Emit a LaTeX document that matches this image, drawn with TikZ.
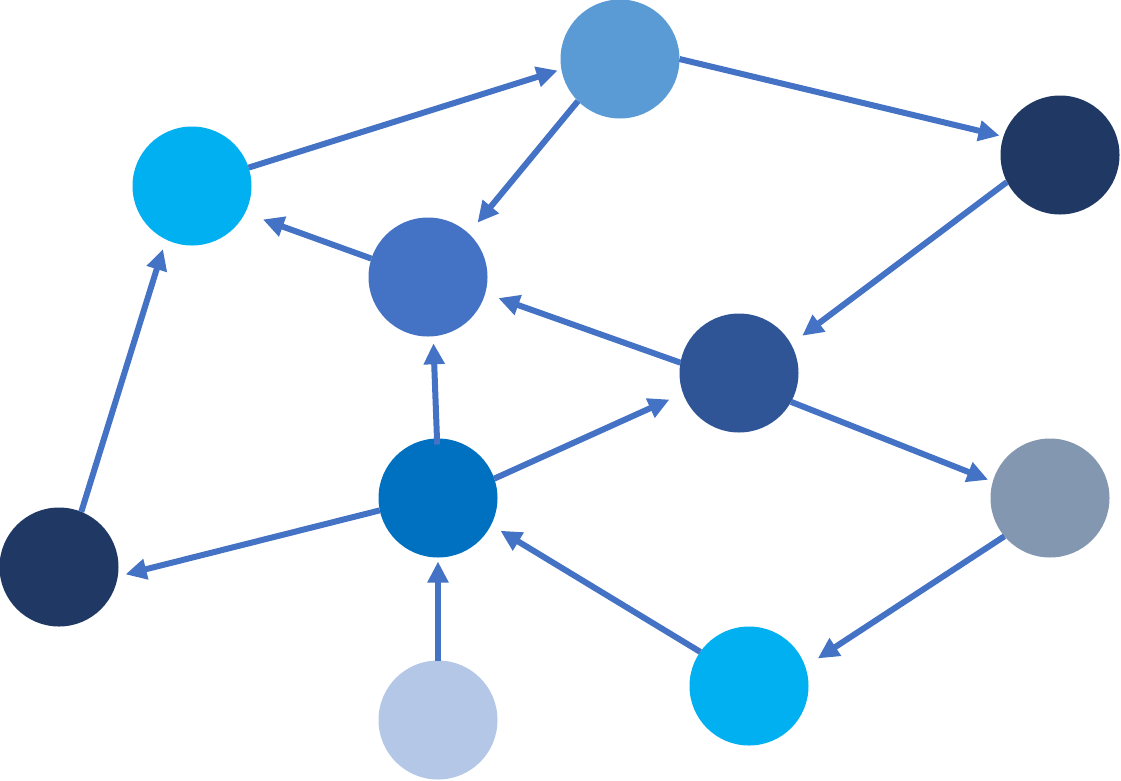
\documentclass[tikz,border=0pt]{standalone}
\usetikzlibrary{arrows.meta}
\definecolor{cA}{HTML}{5B9BD5}
\definecolor{cB}{HTML}{00B0F0}
\definecolor{cC}{HTML}{4472C4}
\definecolor{cD}{HTML}{1F3864}
\definecolor{cE}{HTML}{2F5597}
\definecolor{cF}{HTML}{0070C0}
\definecolor{cH}{HTML}{8497B0}
\definecolor{cJ}{HTML}{B4C7E7}
\definecolor{edge}{HTML}{4472C4}
\tikzset{
  dot/.style={circle, minimum size=119pt, inner sep=0pt, outer sep=0pt, draw=none, fill=#1},
  link/.style={draw=edge, line width=6pt, -{Triangle[length=21pt,width=20pt]}}
}
\begin{document}
\begin{tikzpicture}[x=1pt,y=-1pt]
\useasboundingbox (0,0) rectangle (1121,780);
\node[dot=cA] (A) at (620,59) {};
\node[dot=cB] (B) at (192,186) {};
\node[dot=cC] (C) at (428,277) {};
\node[dot=cD] (D) at (1060,155) {};
\node[dot=cE] (E) at (739,373) {};
\node[dot=cF] (F) at (438,498) {};
\node[dot=cD] (G) at (59,567) {};
\node[dot=cH] (H) at (1050,498) {};
\node[dot=cB] (I) at (749,686) {};
\node[dot=cJ] (J) at (438,720) {};
\draw[link, shorten >=4pt] (B.18.7) -- (A.190.8);
\draw[link, shorten >=4pt] (A.0) -- (D.162.7);
\draw[link, shorten >=14pt] (A.225.7) -- (C.47.7);
\draw[link, shorten >=19pt] (C.162.2) -- (B.-27.2);
\draw[link, shorten >=14pt] (D.207.4) -- (E.29.4);
\draw[link, shorten >=14pt] (E.170) -- (C.-16.5);
\draw[link, shorten >=5pt] (E.-29.6) -- (H.164);
\draw[link, shorten <=-6pt, shorten >=7pt] (F.91) -- (C.-85.7);
\draw[link, shorten >=15pt] (F.19) -- (E.200.4);
\draw[link, shorten >=8pt] (F.192.6) -- (G.-9.3);
\draw[link, shorten >=10pt] (G.68.7) -- (B.244.5);
\draw[link, shorten >=15pt] (H.220.9) -- (I.19.4);
\draw[link, shorten >=11pt] (I.145.5) -- (F.-27.6);
\draw[link, shorten >=4pt] (J.90) -- (F.270);
\end{tikzpicture}
\end{document}
